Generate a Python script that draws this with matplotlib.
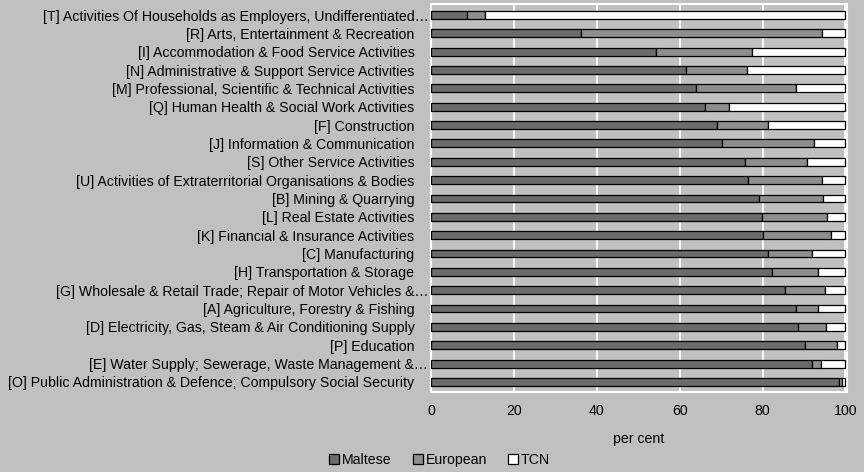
import matplotlib
matplotlib.use("Agg")
import matplotlib.pyplot as plt
import matplotlib.transforms as mtransforms
import numpy as np

plt.rcParams['font.family'] = ['Liberation Sans', 'DejaVu Sans']

# Sectors, top to bottom
categories = [
    "[T] Activities Of Households as Employers, Undifferentiated…",
    "[R] Arts, Entertainment & Recreation",
    "[I] Accommodation & Food Service Activities",
    "[N] Administrative & Support Service Activities",
    "[M] Professional, Scientific & Technical Activities",
    "[Q] Human Health & Social Work Activities",
    "[F] Construction",
    "[J] Information & Communication",
    "[S] Other Service Activities",
    "[U] Activities of Extraterritorial Organisations & Bodies",
    "[B] Mining & Quarrying",
    "[L] Real Estate Activities",
    "[K] Financial & Insurance Activities",
    "[C] Manufacturing",
    "[H] Transportation & Storage",
    "[G] Wholesale & Retail Trade; Repair of Motor Vehicles &…",
    "[A] Agriculture, Forestry & Fishing",
    "[D] Electricity, Gas, Steam & Air Conditioning Supply",
    "[P] Education",
    "[E] Water Supply; Sewerage, Waste Management &…",
    "[O] Public Administration & Defence; Compulsory Social Security",
]

# Share of employment by nationality (per cent)
maltese = [8.6, 36.1, 54.2, 61.4, 64.0, 66.2, 69.0, 70.3, 75.7, 76.5, 79.1,
           79.8, 80.1, 81.4, 82.2, 85.3, 88.1, 88.6, 90.2, 92.0, 98.5]
european = [4.5, 58.3, 23.3, 14.9, 24.0, 5.8, 12.4, 22.0, 15.1, 17.9, 15.4,
            15.8, 16.5, 10.6, 11.1, 9.8, 5.2, 6.7, 7.7, 2.0, 0.6]
tcn = [86.9, 5.6, 22.5, 23.7, 12.0, 28.0, 18.6, 7.7, 9.2, 5.6, 5.5,
       4.4, 3.4, 8.0, 6.7, 4.9, 6.7, 4.7, 2.1, 6.0, 0.9]

series_names = ["Maltese", "European", "TCN"]
colors = ["#6b6b6b", "#8e8e8e", "#ffffff"]
bg = "#c0c0c0"
fs = 10.2

fig = plt.figure(figsize=(8.64, 4.72), dpi=100, facecolor=bg)
ax = fig.add_axes([0.499, 0.1695, 0.481, 0.822])
ax.set_facecolor(bg)

y = np.arange(len(categories))
left = np.zeros(len(categories))
for vals, name, col in zip([maltese, european, tcn], series_names, colors):
    vals = np.array(vals)
    ax.barh(y, vals, left=left, height=0.43, color=col, edgecolor="black",
            linewidth=0.9, label=name, zorder=3)
    left += vals

ax.set_ylim(len(categories) - 0.45, -0.6)
ax.set_xlim(0, 100.3)
ax.set_xticks([0, 20, 40, 60, 80, 100])
ax.set_yticks(y)
ax.set_yticklabels(categories, fontsize=fs)
ax.tick_params(axis="both", length=0, labelsize=fs, colors="black")
ax.tick_params(axis="y", pad=12)
ax.tick_params(axis="x", pad=9)

# Truncated names run up to the plot edge
offset = mtransforms.ScaledTranslation(10 / 72, 0, fig.dpi_scale_trans)
for lab in ax.get_yticklabels():
    if lab.get_text().endswith("…"):
        lab.set_transform(lab.get_transform() + offset)

ax.grid(axis="x", color="white", linewidth=1.3, zorder=0)
ax.grid(axis="y", visible=False)
for side in ["top", "right", "left", "bottom"]:
    ax.spines[side].set_color("white")
    ax.spines[side].set_linewidth(1.5)

ax.set_xlabel("per cent", fontsize=fs, labelpad=10)

handles, labels = ax.get_legend_handles_labels()
leg = fig.legend(handles, labels, loc="center", bbox_to_anchor=(0.509, 0.025),
                 ncol=3, frameon=False, fontsize=fs, handlelength=0.7,
                 handleheight=0.7, handletextpad=0.2, columnspacing=1.5)

fig.savefig("out.png", dpi=100, facecolor=bg)
